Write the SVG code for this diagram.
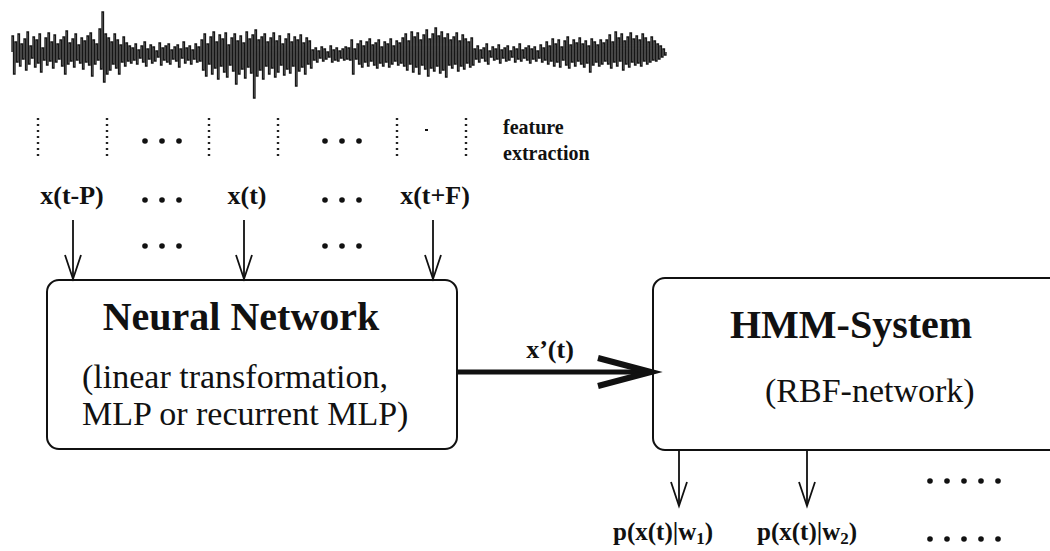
<svg xmlns="http://www.w3.org/2000/svg" width="1050" height="551" viewBox="0 0 1050 551">
<style>
.bx{fill:#fff;stroke:#111;stroke-width:2}
.ln{stroke:#111;stroke-width:1.8;fill:none}
.dl{stroke:#222;stroke-width:2.4;stroke-dasharray:2 4;fill:none}
.b{font-family:"Liberation Serif","Times New Roman",serif;font-weight:bold;fill:#111}
.r{font-family:"Liberation Serif","Times New Roman",serif;fill:#111}
.dot{fill:#111}
</style>
<g id="waveform" transform="translate(4,4)">
<path fill="none" stroke="#161616" stroke-width="1.3" stroke-linejoin="miter" d="M8,48
V32 h1.5 V70 h1.5 V38 h1.5 V58 h1.5 V30 h1.5 V62 h1.5 V40 h1.5 V55 h1.5 V35 h1.5 V66 h1.5 V28 h1.5 V60 h1.5 V42 h1.5 V54 h1.5 V33 h1.5 V63 h1.5 V36 h1.5 V59 h1.5 V30 h1.5 V68 h1.5 V44 h1.5 V56 h1.5 V34 h1.5 V61 h1.5 V29 h1.5 V57 h1.5 V38 h1.5 V64 h1.5 V31 h1.5 V58 h1.5 V40 h1.5 V55 h1.5 V36 h1.5 V62 h1.5 V33 h1.5 V70 h1.5 V27 h1.5 V60 h1.5 V39 h1.5 V57 h1.5 V35 h1.5 V63 h1.5 V30 h1.5 V56 h1.5 V41 h1.5 V59 h1.5 V34 h1.5 V65 h1.5 V37 h1.5 V58 h1.5 V32 h1.5 V61 h1.5 V29 h1.5 V72 h1.5 V36 h1.5 V60 h1.5 V40 h1.5 V56 h1.5
V25 h1.5 V65 h1.5 V8 h1.5 V78 h1.5 V30 h1.5 V70 h1.5
V34 h1.5 V66 h1.5 V38 h1.5 V60 h1.5 V30 h1.5 V64 h1.5 V36 h1.5 V70 h1.5 V41 h1.5 V58 h1.5 V33 h1.5 V62 h1.5 V39 h1.5 V57 h1.5 V42 h1.5 V59 h1.5
V44 h1.5 V56 h1.5 V40 h1.5 V60 h1.5 V46 h1.5 V54 h1.5 V42 h1.5 V58 h1.5 V38 h1.5 V62 h1.5 V45 h1.5 V55 h1.5 V41 h1.5 V59 h1.5 V43 h1.5 V57 h1.5 V47 h1.5 V53 h1.5 V39 h1.5 V61 h1.5 V44 h1.5 V56 h1.5 V42 h1.5 V58 h1.5 V40 h1.5 V60 h1.5 V46 h1.5 V55 h1.5 V43 h1.5 V57 h1.5 V41 h1.5 V63 h1.5 V45 h1.5 V54 h1.5 V38 h1.5 V59 h1.5 V44 h1.5 V56 h1.5 V42 h1.5 V60 h1.5 V46 h1.5 V55 h1.5 V40 h1.5 V58 h1.5 V43 h1.5 V57 h1.5
V36 h1.5 V66 h1.5 V30 h1.5 V72 h1.5 V40 h1.5 V60 h1.5 V33 h1.5 V70 h1.5 V28 h1.5 V64 h1.5 V38 h1.5 V75 h1.5 V31 h1.5 V62 h1.5 V35 h1.5 V68 h1.5 V29 h1.5 V73 h1.5 V41 h1.5 V61 h1.5 V34 h1.5 V67 h1.5 V30 h1.5 V80 h1.5 V37 h1.5 V70 h1.5 V32 h1.5 V65 h1.5 V39 h1.5 V74 h1.5 V28 h1.5 V63 h1.5 V35 h1.5 V69 h1.5 V31 h1.5 V94 h1.5 V26 h1.5 V72 h1.5 V36 h1.5 V66 h1.5 V33 h1.5 V75 h1.5 V30 h1.5 V62 h1.5 V38 h1.5 V70 h1.5 V34 h1.5 V64 h1.5 V29 h1.5 V73 h1.5 V37 h1.5 V68 h1.5 V32 h1.5 V61 h1.5 V40 h1.5 V71 h1.5 V35 h1.5 V65 h1.5 V30 h1.5 V69 h1.5 V38 h1.5 V62 h1.5 V33 h1.5 V82 h1.5 V36 h1.5 V67 h1.5 V31 h1.5 V63 h1.5 V39 h1.5 V70 h1.5 V34 h1.5 V60 h1.5 V37 h1.5 V64 h1.5
V46 h1.5 V56 h1.5 V44 h1.5 V58 h1.5 V47 h1.5 V54 h1.5 V43 h1.5 V57 h1.5 V45 h1.5 V55 h1.5 V48 h1.5 V53 h1.5 V42 h1.5 V58 h1.5 V46 h1.5 V56 h1.5 V44 h1.5 V57 h1.5 V47 h1.5 V54 h1.5 V45 h1.5 V56 h1.5 V43 h1.5 V55 h1.5
V44 h1.5 V56 h1.5 V36 h1.5 V70 h1.5 V45 h1.5 V55 h1.5
V40 h1.5 V60 h1.5 V37 h1.5 V63 h1.5 V42 h1.5 V58 h1.5 V38 h1.5 V62 h1.5 V35 h1.5 V57 h1.5 V41 h1.5 V61 h1.5 V39 h1.5 V64 h1.5 V36 h1.5 V59 h1.5 V43 h1.5 V62 h1.5 V38 h1.5 V58 h1.5 V40 h1.5 V63 h1.5 V35 h1.5 V60 h1.5 V42 h1.5 V57 h1.5 V37 h1.5 V61 h1.5 V39 h1.5 V59 h1.5
V34 h1.5 V62 h1.5 V30 h1.5 V66 h1.5 V37 h1.5 V60 h1.5 V28 h1.5 V68 h1.5 V33 h1.5 V63 h1.5 V29 h1.5 V70 h1.5 V36 h1.5 V61 h1.5 V31 h1.5 V65 h1.5 V26 h1.5 V72 h1.5 V35 h1.5 V64 h1.5 V30 h1.5 V67 h1.5 V24 h1.5 V62 h1.5 V32 h1.5 V69 h1.5 V28 h1.5 V66 h1.5 V34 h1.5 V73 h1.5 V30 h1.5 V61 h1.5 V36 h1.5 V64 h1.5 V33 h1.5 V60 h1.5 V29 h1.5 V67 h1.5 V37 h1.5 V62 h1.5 V31 h1.5 V65 h1.5 V35 h1.5 V59 h1.5 V38 h1.5 V63 h1.5 V34 h1.5 V61 h1.5
V45 h1.5 V55 h1.5 V42 h1.5 V58 h1.5 V46 h1.5 V54 h1.5 V44 h1.5 V57 h1.5 V40 h1.5 V60 h1.5 V47 h1.5 V53 h1.5 V43 h1.5 V56 h1.5 V45 h1.5 V55 h1.5 V41 h1.5 V59 h1.5 V46 h1.5 V54 h1.5 V44 h1.5 V57 h1.5 V42 h1.5 V56 h1.5 V47 h1.5 V53 h1.5 V43 h1.5 V58 h1.5 V45 h1.5 V55 h1.5 V40 h1.5 V57 h1.5 V46 h1.5 V54 h1.5 V44 h1.5 V56 h1.5 V42 h1.5 V59 h1.5 V45 h1.5 V55 h1.5 V43 h1.5 V57 h1.5 V47 h1.5 V54 h1.5 V41 h1.5 V58 h1.5 V44 h1.5 V56 h1.5
V38 h1.5 V60 h1.5 V42 h1.5 V57 h1.5 V35 h1.5 V62 h1.5 V40 h1.5 V58 h1.5 V36 h1.5 V63 h1.5 V43 h1.5 V56 h1.5 V37 h1.5 V61 h1.5 V33 h1.5 V64 h1.5 V41 h1.5 V58 h1.5 V36 h1.5 V62 h1.5 V39 h1.5 V57 h1.5 V34 h1.5 V60 h1.5 V40 h1.5 V63 h1.5 V37 h1.5 V59 h1.5 V42 h1.5 V68 h1.5 V35 h1.5 V61 h1.5 V38 h1.5 V58 h1.5 V41 h1.5 V62 h1.5 V36 h1.5 V60 h1.5 V39 h1.5 V57 h1.5
V36 h1.5 V60 h1.5 V31 h1.5 V64 h1.5 V38 h1.5 V58 h1.5 V28 h1.5 V62 h1.5 V34 h1.5 V57 h1.5 V30 h1.5 V66 h1.5 V37 h1.5 V60 h1.5 V33 h1.5 V63 h1.5 V29 h1.5 V58 h1.5 V35 h1.5 V61 h1.5 V32 h1.5 V59 h1.5 V36 h1.5 V62 h1.5 V30 h1.5 V57 h1.5 V34 h1.5 V60 h1.5 V38 h1.5 V58 h1.5 V33 h1.5 V56 h1.5 V37 h1.5 V57 h1.5 V40 h1.5 V55 h1.5 V42 h1.5 V53 h1.5 V45 h1.5 V51 h1.5 V48"/>
</g>
<g id="feature-extraction">
<path class="dl" d="M38,118 V157 M107,118 V157 M209,118 V157 M278,118 V157 M397,118 V157 M466,118 V157"/>
<path d="M425,130 h3" stroke="#111" stroke-width="2"/>
<g class="dot">
<circle cx="145" cy="141" r="2.8"/><circle cx="162" cy="141" r="2.8"/><circle cx="179" cy="141" r="2.8"/>
<circle cx="325" cy="141" r="2.8"/><circle cx="342" cy="141" r="2.8"/><circle cx="359" cy="141" r="2.8"/>
<circle cx="145" cy="200" r="2.8"/><circle cx="162" cy="200" r="2.8"/><circle cx="179" cy="200" r="2.8"/>
<circle cx="325" cy="200" r="2.8"/><circle cx="342" cy="200" r="2.8"/><circle cx="359" cy="200" r="2.8"/>
<circle cx="145" cy="246" r="2.8"/><circle cx="162" cy="246" r="2.8"/><circle cx="179" cy="246" r="2.8"/>
<circle cx="325" cy="246" r="2.8"/><circle cx="342" cy="246" r="2.8"/><circle cx="359" cy="246" r="2.8"/>
</g>
<text class="b" x="503" y="134" font-size="20">feature</text>
<text class="b" x="503" y="160" font-size="20">extraction</text>
<text class="b" x="72" y="204" font-size="26" text-anchor="middle">x(t-P)</text>
<text class="b" x="247" y="204" font-size="26" text-anchor="middle">x(t)</text>
<text class="b" x="435" y="204" font-size="26" text-anchor="middle">x(t+F)</text>
</g>
<g id="neural-network">
<rect class="bx" x="47" y="280" width="410" height="169" rx="12"/>
<text class="b" x="241" y="330" font-size="40" text-anchor="middle">Neural Network</text>
<text class="r" x="82" y="388" font-size="34">(linear transformation,</text>
<text class="r" x="82" y="425" font-size="34">MLP or recurrent MLP)</text>
</g>
<g id="hmm-system">
<rect class="bx" x="653" y="278" width="420" height="172" rx="12"/>
<text class="b" x="730" y="338" font-size="40">HMM-System</text>
<text class="r" x="765" y="402" font-size="34">(RBF-network)</text>
</g>
<g id="outputs">
<text class="b" x="613" y="540" font-size="25">p(x(t)|w<tspan font-size="17" dy="4">1</tspan><tspan dy="-4">)</tspan></text>
<text class="b" x="757" y="540" font-size="25">p(x(t)|w<tspan font-size="17" dy="4">2</tspan><tspan dy="-4">)</tspan></text>
<g class="dot">
<circle cx="930" cy="481" r="2.8"/><circle cx="947" cy="481" r="2.8"/><circle cx="964" cy="481" r="2.8"/><circle cx="981" cy="481" r="2.8"/><circle cx="998" cy="481" r="2.8"/>
<circle cx="930" cy="539" r="2.8"/><circle cx="947" cy="539" r="2.8"/><circle cx="964" cy="539" r="2.8"/><circle cx="981" cy="539" r="2.8"/><circle cx="998" cy="539" r="2.8"/>
</g>
</g>
<g id="connectors">
<path class="ln" d="M73,220 V279 M244,220 V279 M433,220 V279"/>
<path class="ln" d="M65,255 L73,279 L81,255 M236,255 L244,279 L252,255 M425,255 L433,279 L441,255"/>
<path class="ln" d="M679,450 V506 M807,450 V506"/>
<path class="ln" d="M671,482 L679,506 L687,482 M799,482 L807,506 L815,482"/>
<path d="M458,372 H650" stroke="#111" stroke-width="5" fill="none"/>
<path d="M598,358 L651,372 L598,386" stroke="#111" stroke-width="6" fill="none" stroke-linejoin="miter"/>
<text class="b" x="550" y="358" font-size="26" text-anchor="middle">x’(t)</text>
</g>
</svg>
